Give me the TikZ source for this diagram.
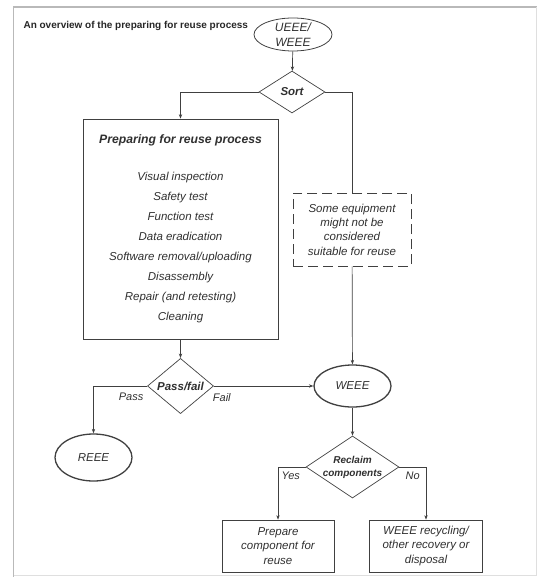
\documentclass[tikz,border=0pt]{standalone}
\usepackage{fontspec}
\setmainfont{Liberation Sans}
\usetikzlibrary{shapes.geometric,arrows.meta}
\definecolor{ln}{HTML}{404040}
\definecolor{tx}{HTML}{303030}
\begin{document}
\begin{tikzpicture}[x=1pt,y=-1pt,
  every node/.style={text=tx},
  fs/.style={font=\fontsize{11.5}{14.3}\selectfont\itshape},
  box/.style={draw=ln, line width=0.7pt, rectangle, align=center, fs},
  ell/.style={draw=ln, ellipse, inner sep=-2pt, align=center, fs},
  dia/.style={draw=ln, line width=0.7pt, diamond, inner sep=0pt, align=center,
    font=\fontsize{11.5}{13}\selectfont\bfseries\itshape},
  arr/.style={draw=ln, line width=0.7pt, -{Stealth[length=4.5pt,width=3.4pt]}},
  con/.style={draw=ln, line width=0.7pt},
  lab/.style={font=\fontsize{11}{13}\selectfont\itshape, inner sep=1pt}
]
\useasboundingbox (0,0) rectangle (537,577);
\draw[gray!55, line width=1.3pt] (13.5,577) -- (13.5,7) -- (537,7);
\draw[gray!25, line width=0.6pt] (536,7) -- (536,575.5) -- (13.5,575.5);

\node[anchor=west, font=\fontsize{10}{12}\selectfont\bfseries, text=black!85] (title) at (20,26)
  {An overview of the preparing for reuse process};

\node[ell, minimum width=78pt, minimum height=33pt, line width=0.8pt,
  font=\fontsize{12}{15}\selectfont\itshape] (ue) at (293,34.5) {UEEE/\\WEEE};
\node[dia, minimum width=66pt, minimum height=42pt] (sort) at (292,92) {Sort};

\node[box, minimum width=195pt, minimum height=220pt,
  font=\fontsize{11.5}{20}\selectfont\itshape] (prep) at (180.5,229)
  {{\fontsize{12.2}{14}\selectfont\bfseries\itshape Preparing for reuse process}\\[17pt]
   Visual inspection\\ Safety test\\ Function test\\ Data eradication\\
   Software removal/uploading\\ Disassembly\\ Repair (and retesting)\\ Cleaning};

\node[box, dash pattern=on 10pt off 5pt, minimum width=118pt, minimum height=73pt] (dash) at (352,229.5)
  {Some equipment\\might not be\\considered\\suitable for reuse};

\node[ell, minimum width=77pt, minimum height=42pt, line width=1.3pt] (weee) at (352.5,386) {WEEE};
\node[dia, minimum width=66pt, minimum height=55pt] (pf) at (180.5,386) {Pass/fail};
\node[ell, minimum width=77pt, minimum height=47pt, line width=1.3pt] (reee) at (93.5,457.5) {REEE};
\node[dia, aspect=1.5, minimum width=93pt, minimum height=62pt,
  font=\fontsize{10}{13}\selectfont\bfseries\itshape] (rc) at (352.5,467) {Reclaim\\components};
\node[box, minimum width=112pt, minimum height=52pt] (pc) at (278,546) {Prepare\\component for\\reuse};
\node[box, minimum width=113pt, minimum height=52pt] (wr) at (426,546) {WEEE recycling/\\other recovery or\\disposal};

\draw[arr] (ue) -- (sort);
\draw[arr] (sort.west) -| (prep.north);
\draw[con] (sort.east) -| (dash.north);
\draw[arr] (dash) -- (weee);
\draw[arr] (prep) -- (pf);
\draw[arr] (pf) -- node[lab, pos=0.08, below=6pt] {Fail} (weee);
\draw[arr] (pf.west) -| node[lab, pos=0.15, below=6pt] {Pass} (reee.north);
\draw[arr] (weee) -- (rc);
\draw[arr] (rc.west) -| node[lab, pos=0.27, below=4pt] {Yes} (pc.north);
\draw[arr] (rc.east) -| node[lab, pos=0.25, below=4pt] {No} (wr.north);
\end{tikzpicture}
\end{document}
